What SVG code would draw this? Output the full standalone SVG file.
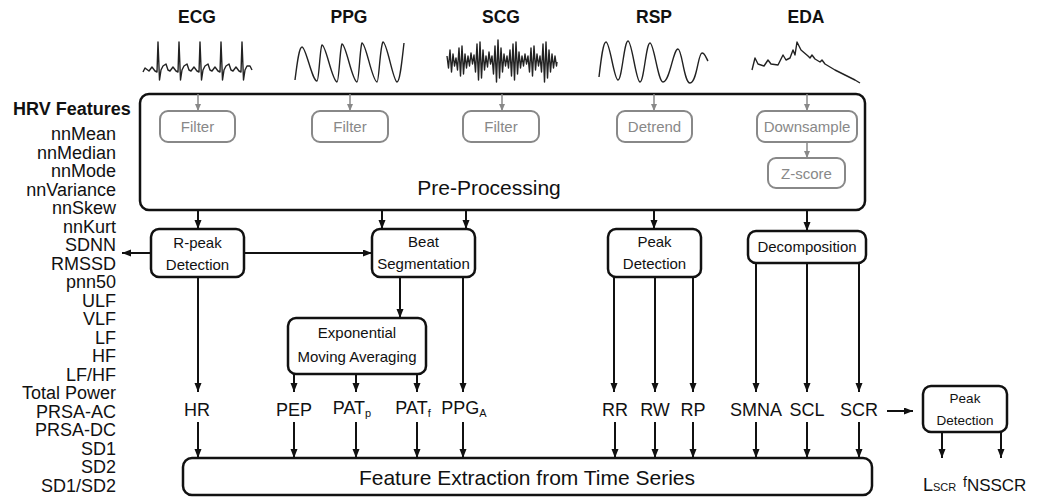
<svg xmlns="http://www.w3.org/2000/svg" width="1038" height="498" viewBox="0 0 1038 498">
<defs>
<marker id="ah" markerUnits="userSpaceOnUse" markerWidth="10" markerHeight="8" refX="9" refY="3.5" orient="auto"><path d="M0,0 L9,3.5 L0,7 z" fill="#111"/></marker>
<marker id="ahg" markerUnits="userSpaceOnUse" markerWidth="8" markerHeight="7" refX="7" refY="3" orient="auto"><path d="M0,0 L7,3 L0,6 z" fill="#888"/></marker>
<style>
text{font-family:"Liberation Sans",Arial,sans-serif;fill:#111}
.hdr{font-size:17.5px;font-weight:bold}
.lst{font-size:18px;text-anchor:end}
.box{fill:#fff;stroke:#111;stroke-width:2.5}
.gbox{fill:#fff;stroke:#888;stroke-width:2}
.gt{font-size:15px;fill:#888;text-anchor:middle}
.bt{font-size:15px;text-anchor:middle}
.big{font-size:21px;text-anchor:middle}
.lab{font-size:18px;text-anchor:middle}
.sub{font-size:11px}
.wave{fill:none;stroke:#222;stroke-width:1.4;stroke-linejoin:round}
.c{fill:none;stroke:#111;stroke-width:2}
.cg{fill:none;stroke:#888;stroke-width:1.5}
</style>
</defs>

<g id="headers">
<text class="hdr" x="197" y="23" text-anchor="middle">ECG</text>
<text class="hdr" x="349" y="23" text-anchor="middle">PPG</text>
<text class="hdr" x="501" y="23" text-anchor="middle">SCG</text>
<text class="hdr" x="654" y="23" text-anchor="middle">RSP</text>
<text class="hdr" x="806" y="23" text-anchor="middle">EDA</text>
</g>

<g id="waveforms">
<path class="wave" d="M143,72 L145,68 L149,71 L152,67 L155,71 L157,72 L158,42 L159.5,80 L161,70 L163,66 L166,64 L168,70 L170,71 L173,67 L176,71 L178,72 L179,42 L180.5,80 L182,70 L184,66 L187,64 L189,70 L191,71 L194,67 L197,71 L199,72 L200,42 L201.5,80 L203,70 L205,66 L208,64 L210,70 L212,71 L215,67 L218,71 L220,72 L221,42 L222.5,80 L224,70 L226,66 L229,64 L231,70 L233,71 L236,67 L239,71 L241,72 L242,42 L243.5,80 L245,70 L247,66 L250,66 L252,70"/>
<path class="wave" d="M295,80 C297,64 299,47 302,47 C306,47 312,81 317,81 C319,81 320,47 322,45 C326,45 332,81 337,82 C339,82 340,47 342,44 C346,44 352,81 357,82 C359,82 360,46 362,43 C366,43 372,81 377,82 C379,82 380,46 383,42 C387,42 393,81 397,82 C400,82 402,60 404,43"/>
<polyline class="wave" points="447,56 448.5,68 450,50 451.5,72 453,54 454.5,66 456,58 457.5,70 459,48 460.5,76 462,46 463.5,74 465,54 466.5,68 468,56 469.5,66 471,53 472.5,64 474,55 475.5,72 477,44 478.5,80 480,42 481.5,78 483,50 484.5,70 486,56 487.5,67 489,52 490.5,64 492,56 493.5,74 495,46 496.5,82 498,40 499.5,78 501,48 502.5,72 504,54 505.5,66 507,56 508.5,68 510,50 511.5,76 513,44 514.5,80 516,42 517.5,74 519,52 520.5,68 522,56 523.5,66 525,54 526.5,64 528,56 529.5,72 531,48 532.5,76 534,46 535.5,70 537,54 538.5,66 540,56 541.5,72 543,44 544.5,82 546,42 547.5,78 549,50 550.5,72 552,54 553.5,68 555,56 556.5,66 557,62"/>
<path class="wave" d="M599,77 C601,60 603,42 606,42 C610,42 614,80 618,80 C622,80 624,41 628,41 C632,41 636,82 640,82 C644,82 646,43 650,43 C654,43 658,82 663,82 C670,82 673,49 678,49 C682,49 684,83 690,83 C697,83 698,53 702,53 C705,53 706,58 708,61"/>
<path class="wave" d="M752,70 L755,58 L758,64 L764,66 L768,60 L771,64 L778,65 L783,55 L786,60 L790,58 L793,50 L795,55 L797,42 L801,50 L808,56 L810,58 L812,55 L815,59 L820,62 L822,60 L825,64 L835,70 L845,75 L855,80 L860,83"/>
</g>

<g id="hrv-features">
<text class="hdr" x="13" y="115" style="font-size:18px">HRV Features</text>
<text class="lst" x="116" y="140">nnMean</text>
<text class="lst" x="116" y="158.5">nnMedian</text>
<text class="lst" x="116" y="177">nnMode</text>
<text class="lst" x="116" y="195.5">nnVariance</text>
<text class="lst" x="116" y="214">nnSkew</text>
<text class="lst" x="116" y="232.5">nnKurt</text>
<text class="lst" x="116" y="251">SDNN</text>
<text class="lst" x="116" y="269.5">RMSSD</text>
<text class="lst" x="116" y="288">pnn50</text>
<text class="lst" x="116" y="306.5">ULF</text>
<text class="lst" x="116" y="325">VLF</text>
<text class="lst" x="116" y="343.5">LF</text>
<text class="lst" x="116" y="362">HF</text>
<text class="lst" x="116" y="380.5">LF/HF</text>
<text class="lst" x="116" y="399">Total Power</text>
<text class="lst" x="116" y="417.5">PRSA-AC</text>
<text class="lst" x="116" y="436">PRSA-DC</text>
<text class="lst" x="116" y="454.5">SD1</text>
<text class="lst" x="116" y="473">SD2</text>
<text class="lst" x="116" y="491.5">SD1/SD2</text>
</g>

<g id="pre-processing">
<rect class="box" x="140" y="94" width="725" height="116" rx="9"/>
<text class="big" x="489" y="195">Pre-Processing</text>
</g>

<g id="filter-ecg"><rect class="gbox" x="160" y="111" width="75" height="31" rx="8"/><text class="gt" x="197.5" y="132">Filter</text></g>
<g id="filter-ppg"><rect class="gbox" x="312" y="111" width="76" height="31" rx="8"/><text class="gt" x="350" y="132">Filter</text></g>
<g id="filter-scg"><rect class="gbox" x="463" y="111" width="76" height="31" rx="8"/><text class="gt" x="501" y="132">Filter</text></g>
<g id="detrend"><rect class="gbox" x="617" y="111" width="75" height="31" rx="8"/><text class="gt" x="654.5" y="132">Detrend</text></g>
<g id="downsample"><rect class="gbox" x="757" y="111" width="100" height="31" rx="8"/><text class="gt" x="807" y="132">Downsample</text></g>
<g id="zscore"><rect class="gbox" x="768" y="158" width="77" height="30" rx="8"/><text class="gt" x="806.5" y="179">Z-score</text></g>

<g id="rpeak"><rect class="box" x="151" y="229" width="93" height="48" rx="8"/><text class="bt" x="197.5" y="248">R-peak</text><text class="bt" x="197.5" y="270">Detection</text></g>
<g id="beatseg"><rect class="box" x="372" y="229" width="103" height="48" rx="8"/><text class="bt" x="423.5" y="247">Beat</text><text class="bt" x="423.5" y="269">Segmentation</text></g>
<g id="ema"><rect class="box" x="288" y="318" width="138" height="56" rx="8"/><text class="bt" x="357" y="338">Exponential</text><text class="bt" x="357" y="362">Moving Averaging</text></g>
<g id="peakdet-rsp"><rect class="box" x="608" y="229" width="93" height="48" rx="8"/><text class="bt" x="654.5" y="247">Peak</text><text class="bt" x="654.5" y="269">Detection</text></g>
<g id="decomposition"><rect class="box" x="748" y="231" width="118" height="32" rx="8"/><text class="bt" x="807" y="252">Decomposition</text></g>
<g id="peakdet-eda"><rect class="box" x="923" y="386" width="84" height="46" rx="8"/><text class="bt" x="965" y="403" style="font-size:13.5px">Peak</text><text class="bt" x="965" y="425" style="font-size:13.5px">Detection</text></g>
<g id="feature-extraction"><rect class="box" x="183" y="458" width="689" height="37" rx="9"/><text class="big" x="527" y="485">Feature Extraction from Time Series</text></g>

<g id="labels">
<text class="lab" x="197" y="416">HR</text>
<text class="lab" x="294" y="416">PEP</text>
<text class="lab" x="352" y="414">PAT<tspan class="sub" dy="3">p</tspan></text>
<text class="lab" x="413" y="414">PAT<tspan class="sub" dy="3">f</tspan></text>
<text class="lab" x="464" y="414">PPG<tspan class="sub" dy="3">A</tspan></text>
<text class="lab" x="615" y="416">RR</text>
<text class="lab" x="655" y="416">RW</text>
<text class="lab" x="693" y="416">RP</text>
<text class="lab" x="756" y="416">SMNA</text>
<text class="lab" x="807" y="416">SCL</text>
<text class="lab" x="859" y="416">SCR</text>
<text x="923" y="491" style="font-size:18px">L<tspan style="font-size:11px">SCR</tspan></text>
<text x="963" y="487" style="font-size:14px">f<tspan style="font-size:17px" dy="4">NSSCR</tspan></text>
</g>

<g id="connectors">
<line class="cg" x1="198" y1="94" x2="198" y2="111" marker-end="url(#ahg)"/>
<line class="cg" x1="350" y1="94" x2="350" y2="111" marker-end="url(#ahg)"/>
<line class="cg" x1="502" y1="94" x2="502" y2="111" marker-end="url(#ahg)"/>
<line class="cg" x1="654" y1="94" x2="654" y2="111" marker-end="url(#ahg)"/>
<line class="cg" x1="807" y1="94" x2="807" y2="111" marker-end="url(#ahg)"/>
<line class="cg" x1="807" y1="142" x2="807" y2="158" marker-end="url(#ahg)"/>

<line class="c" x1="198" y1="210" x2="198" y2="229" marker-end="url(#ah)"/>
<line class="c" x1="382" y1="210" x2="382" y2="229" marker-end="url(#ah)"/>
<line class="c" x1="466" y1="210" x2="466" y2="229" marker-end="url(#ah)"/>
<line class="c" x1="654" y1="210" x2="654" y2="229" marker-end="url(#ah)"/>
<line class="c" x1="807" y1="210" x2="807" y2="231" marker-end="url(#ah)"/>

<line class="c" x1="244" y1="253" x2="372" y2="253" marker-end="url(#ah)"/>
<line class="c" x1="151" y1="253" x2="122" y2="253" marker-end="url(#ah)"/>

<line class="c" x1="198" y1="277" x2="198" y2="392" marker-end="url(#ah)"/>
<line class="c" x1="400" y1="277" x2="400" y2="318" marker-end="url(#ah)"/>
<line class="c" x1="463" y1="277" x2="463" y2="392" marker-end="url(#ah)"/>
<line class="c" x1="294" y1="374" x2="294" y2="392" marker-end="url(#ah)"/>
<line class="c" x1="356" y1="374" x2="356" y2="392" marker-end="url(#ah)"/>
<line class="c" x1="417" y1="374" x2="417" y2="392" marker-end="url(#ah)"/>

<line class="c" x1="614" y1="277" x2="614" y2="392" marker-end="url(#ah)"/>
<line class="c" x1="655" y1="277" x2="655" y2="392" marker-end="url(#ah)"/>
<line class="c" x1="693" y1="277" x2="693" y2="392" marker-end="url(#ah)"/>
<line class="c" x1="756" y1="263" x2="756" y2="392" marker-end="url(#ah)"/>
<line class="c" x1="807" y1="263" x2="807" y2="392" marker-end="url(#ah)"/>
<line class="c" x1="859" y1="263" x2="859" y2="392" marker-end="url(#ah)"/>

<line class="c" x1="198" y1="422" x2="198" y2="458" marker-end="url(#ah)"/>
<line class="c" x1="294" y1="422" x2="294" y2="458" marker-end="url(#ah)"/>
<line class="c" x1="356" y1="422" x2="356" y2="458" marker-end="url(#ah)"/>
<line class="c" x1="417" y1="422" x2="417" y2="458" marker-end="url(#ah)"/>
<line class="c" x1="463" y1="422" x2="463" y2="458" marker-end="url(#ah)"/>
<line class="c" x1="615" y1="422" x2="615" y2="458" marker-end="url(#ah)"/>
<line class="c" x1="655" y1="422" x2="655" y2="458" marker-end="url(#ah)"/>
<line class="c" x1="693" y1="422" x2="693" y2="458" marker-end="url(#ah)"/>
<line class="c" x1="756" y1="422" x2="756" y2="458" marker-end="url(#ah)"/>
<line class="c" x1="807" y1="422" x2="807" y2="458" marker-end="url(#ah)"/>
<line class="c" x1="859" y1="422" x2="859" y2="458" marker-end="url(#ah)"/>

<line class="c" x1="887" y1="411" x2="913" y2="411" marker-end="url(#ah)"/>
<line class="c" x1="942" y1="432" x2="942" y2="458" marker-end="url(#ah)"/>
<line class="c" x1="1001" y1="432" x2="1001" y2="458" marker-end="url(#ah)"/>
</g>
</svg>
